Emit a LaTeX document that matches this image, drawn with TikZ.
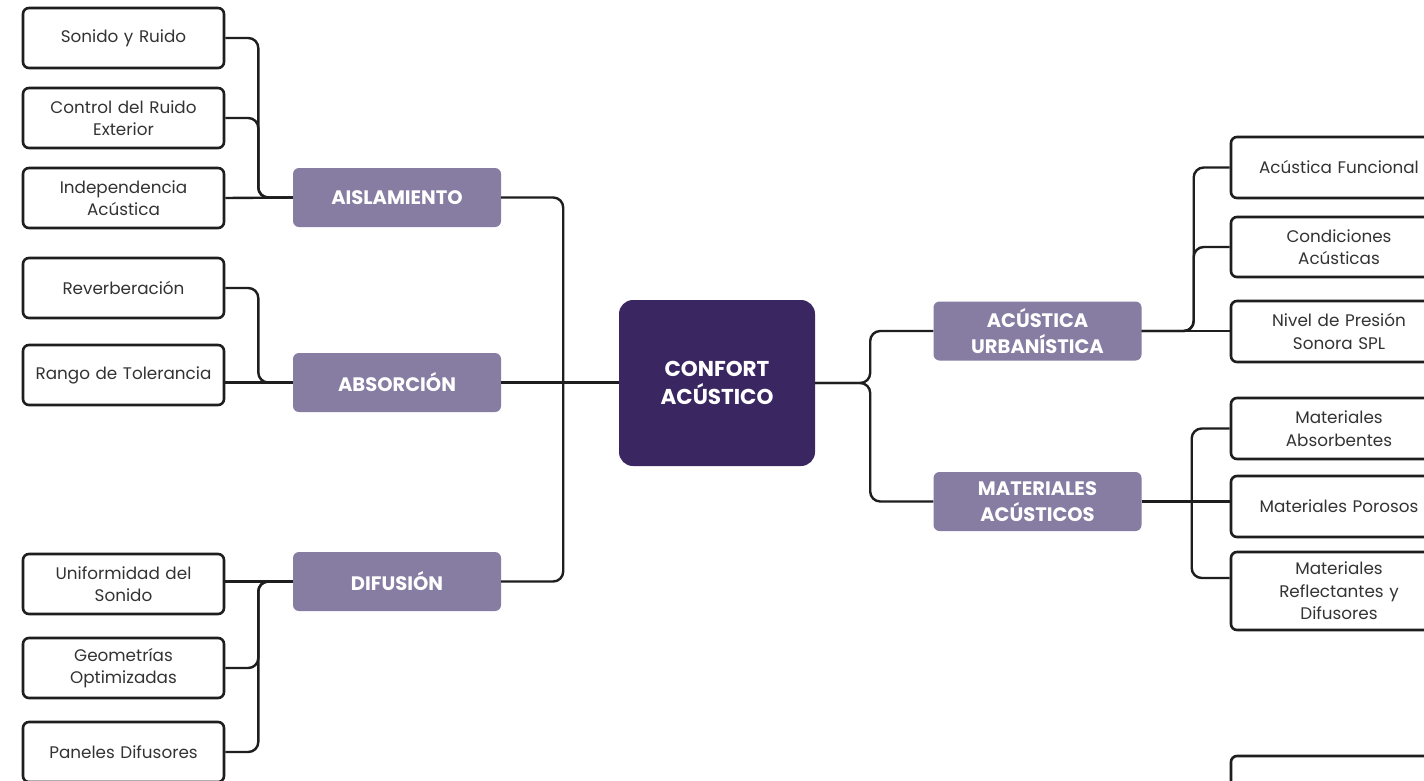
\documentclass[tikz,border=0pt]{standalone}
\usepackage{fontspec}
\setmainfont{Poppins}
\definecolor{inkline}{HTML}{1E1E1E}
\definecolor{inktext}{HTML}{333333}
\definecolor{branchfill}{HTML}{877CA2}
\definecolor{corefill}{HTML}{3A2762}
\tikzset{
  leaf/.style={draw=inkline, fill=white, line width=2.6pt, rounded corners=6pt,
    minimum width=201pt, minimum height=60pt, text width=195pt, align=center,
    inner sep=0pt, text=inktext, font=\fontsize{16.8}{22.5}\selectfont},
  rleaf/.style={leaf, minimum width=216pt, text width=210pt},
  branch/.style={fill=branchfill, rounded corners=6pt, minimum width=208pt,
    minimum height=59pt, text width=204pt, align=center, inner sep=0pt,
    text=white, font=\bfseries\fontsize{19.5}{26}\selectfont},
  core/.style={fill=corefill, rounded corners=14pt, minimum width=196pt,
    minimum height=166pt, text width=192pt, align=center, inner sep=0pt,
    text=white, font=\bfseries\fontsize{21.5}{28}\selectfont},
  link/.style={draw=inkline, line width=2.4pt, rounded corners=10pt},
}
\begin{document}
\begin{tikzpicture}[x=1pt, y=-1pt]
\useasboundingbox (0,0) rectangle (1424,780);
\clip (0,0) rectangle (1424,780);
\fill[white] (0,0) rectangle (1424,780);

% central topic
\node[core] (core) at (717,383) {CONFORT\\ACÚSTICO};

% left branches
\node[branch] (ais) at (397,197.5) {AISLAMIENTO};
\node[branch] (abs) at (397,382.5) {ABSORCIÓN};
\node[branch] (dif) at (397,581.5) {DIFUSIÓN};

% right branches
\node[branch] (urb) at (1037.5,331) {ACÚSTICA\\URBANÍSTICA};
\node[branch] (mat) at (1037.5,501.5) {MATERIALES\\ACÚSTICOS};

% left leaves
\node[leaf] (s1) at (123.5,38) {Sonido y Ruido};
\node[leaf] (s2) at (123.5,118) {Control del Ruido\\Exterior};
\node[leaf] (s3) at (123.5,198) {Independencia\\Acústica};
\node[leaf] (r1) at (123.5,288) {Reverberación};
\node[leaf] (r2) at (123.5,375) {Rango de Tolerancia};
\node[leaf] (d1) at (123.5,584) {Uniformidad del\\Sonido};
\node[leaf] (d2) at (123.5,668) {Geometrías\\Optimizadas};
\node[leaf] (d3) at (123.5,752) {Paneles Difusores};

% right leaves
\node[rleaf, minimum height=61pt] (a1) at (1339,167.5) {Acústica Funcional};
\node[rleaf] (a2) at (1339,247) {Condiciones\\Acústicas};
\node[rleaf, minimum height=61pt] (a3) at (1339,331.5) {Nivel de Presión\\Sonora SPL};
\node[rleaf, minimum height=61pt] (m1) at (1339,428.5) {Materiales\\Absorbentes};
\node[rleaf, minimum height=61pt] (m2) at (1339,506.5) {Materiales Porosos};
\node[rleaf, minimum height=78pt] (m3) at (1339,591) {Materiales\\Reflectantes y\\Difusores};
\node[rleaf] (m4) at (1339,786) {};

% connectors: AISLAMIENTO
\draw[link] (s1.east) -- ++(33,0) |- (ais.west);
\draw[link] (s2.east) -- ++(33,0) |- (ais.west);
\draw[link] (s3.east) -- (ais.west);
% connectors: ABSORCIÓN
\draw[link] (r1.east) -- ++(33,0) |- (abs.west);
\draw[link] (abs.west) -- (abs.west -| r2.east);
% connectors: DIFUSIÓN
\draw[link] (dif.west) -- (dif.west -| d1.east);
\draw[link] (d2.east) -- ++(33,0) |- (dif.west);
\draw[link] (d3.east) -- ++(33,0) |- (dif.west);

% connectors from the central topic
\draw[link] (abs.east) -- (abs.east -| core.west);
\draw[link] (ais.east) -- ++(62,0) |- (dif.east);
\draw[link] (core.east) -- ++(55,0) |- (urb.west);
\draw[link] (core.east) -- ++(55,0) |- (mat.west);

% connectors: ACÚSTICA URBANÍSTICA
\draw[link] (urb.east) -- (urb.east -| a3.west);
\draw[link] (urb.east) -- ++(52,0) |- (a1.west);
\draw[link] (urb.east) -- ++(52,0) |- (a2.west);

% connectors: MATERIALES ACÚSTICOS
\draw[link] (mat.east) -- (mat.east -| m2.west);
\draw[link] (m1.west) -- ++(-38,0) |- ([yshift=13pt]m3.west);
\end{tikzpicture}
\end{document}
